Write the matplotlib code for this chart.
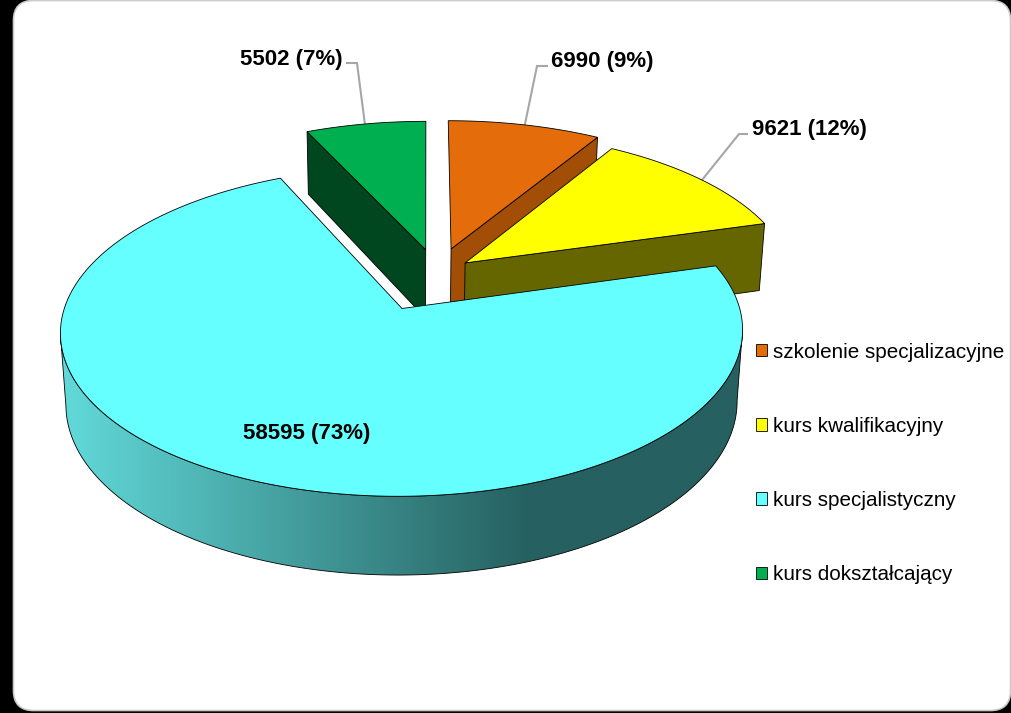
import numpy as np
import matplotlib
matplotlib.use('Agg')
import matplotlib.pyplot as plt
from matplotlib.patches import FancyBboxPatch, Patch, Polygon

categories = ['szkolenie specjalizacyjne', 'kurs kwalifikacyjny', 'kurs specjalistyczny', 'kurs dokształcający']
values = [6990, 9621, 58595, 5502]
percents = [9, 12, 73, 7]

top_colors = ['#E46C0A', '#FFFF00', '#66FFFF', '#00B050']
side_colors = ['#A34E07', '#666600', '#2A6A6A', '#00471F']
explode = [0.168, 0.11, 0.0, 0.16]

# pie centre and perspective of the tilted disc, in pixels
X0, Y0 = 402, 308.5
A, B, D = 337.7, 161.5, 72
P, Q = 0.14, 0.016
VANISH_X = 25
CENTER_SHIFT = (0.104, 0.227)

plt.rcParams['font.family'] = ['Liberation Sans', 'DejaVu Sans']


def project(x, y, z=0):
    w = 1 + P * y + Q * z
    return X0 + (A * x + VANISH_X * P * y) / w, Y0 - (B * y - D * z) / w


def slicePoints(start, end, offset):
    t = np.radians(np.linspace(start, end, 240))
    mid = np.radians((start + end) / 2)
    cx = CENTER_SHIFT[0] * (offset > 0) + offset * np.sin(mid)
    cy = CENTER_SHIFT[1] * (offset > 0) + offset * np.cos(mid)
    return cx, cy, cx + np.sin(t), cy + np.cos(t)


def pts(x, y, z=0):
    return np.column_stack(project(np.asarray(x), np.asarray(y), z))


fig = plt.figure(figsize=(10.12, 7.13), dpi=100, facecolor='black')
ax = fig.add_axes([0, 0, 1, 1])

ax.add_patch(FancyBboxPatch((13.5, 0.5), 997, 710, boxstyle='round,pad=0,rounding_size=20',
                            facecolor='white', edgecolor='#CCCCCC', linewidth=1.2, zorder=0))

edges = np.concatenate([[0], np.cumsum(values)]) / sum(values) * 360
# far slices first, the big one covers them
order = [3, 0, 1, 2]
for n, i in enumerate(order):
    start, end = edges[i], edges[i + 1]
    cx, cy, xs, ys = slicePoints(start, end, explode[i])
    z = 1 + n * 3
    if i == 3:
        side = np.vstack([pts([cx, xs[0]], [cy, ys[0]]), pts([xs[0], cx], [ys[0], cy], 1)])
        ax.add_patch(Polygon(side, closed=True, fc=side_colors[i], ec='black', lw=0.6, zorder=z))
    elif i != 2:
        side = np.vstack([pts([cx, xs[-1]], [cy, ys[-1]]), pts([xs[-1], cx], [ys[-1], cy], 1)])
        ax.add_patch(Polygon(side, closed=True, fc=side_colors[i], ec='black', lw=0.6, zorder=z))
    else:
        # outer wall with the horizontal shading, flat dark past x=530
        sx = pts(xs, ys)[:, 0]
        j1, j2 = np.argmax(sx), np.argmin(sx)
        wall = np.vstack([pts(xs[j1:j2 + 1], ys[j1:j2 + 1]),
                          pts(xs[j1:j2 + 1][::-1], ys[j1:j2 + 1][::-1], 1)])
        poly = Polygon(wall, closed=True, fc='none', ec='black', lw=0.6, zorder=z + 1)
        ax.add_patch(poly)
        ramp = np.clip(np.linspace(0, 700 / 470, 512), 0, 1).reshape(1, -1, 1)
        light, dark = np.array([98, 218, 218]) / 255, np.array([38, 96, 96]) / 255
        img = ax.imshow(light + (dark - light) * ramp, extent=(60, 760, 600, 300),
                        aspect='auto', zorder=z, interpolation='bilinear')
        img.set_clip_path(poly)
    face = np.vstack([pts([cx], [cy]), pts(xs, ys)])
    ax.add_patch(Polygon(face, closed=True, fc=top_colors[i], ec='black', lw=0.6, zorder=z + 2))

leaders = [
    [(525, 124), (537, 66), (547, 66)],
    [(702, 180), (739, 134), (747, 134)],
    None,
    [(365, 125), (357, 63), (347, 63)],
]
label_pos = [(551, 62), (752, 130), (243, 433), (240, 60)]
for i in range(len(values)):
    if leaders[i] is not None:
        lx, ly = zip(*leaders[i])
        ax.plot(lx, ly, color='#A6A6A6', lw=1.5, zorder=2, solid_joinstyle='miter')
    ax.text(label_pos[i][0], label_pos[i][1], '%d (%d%%)' % (values[i], percents[i]),
            fontsize=16, fontweight='bold', color='black', ha='left', va='center', zorder=21)

ax.set_xlim(0, 1012)
ax.set_ylim(713, 0)
ax.axis('off')

handles = [Patch(facecolor=c, edgecolor='black', linewidth=0.6) for c in top_colors]
ax.legend(handles, categories, loc='upper left', bbox_to_anchor=(756 / 1012, 1 - 342.5 / 713),
          frameon=False, fontsize=14.9, handlelength=0.55, handleheight=0.55,
          handletextpad=0.28, labelspacing=2.67, borderpad=0, borderaxespad=0)

fig.savefig('out.png', dpi=100)
